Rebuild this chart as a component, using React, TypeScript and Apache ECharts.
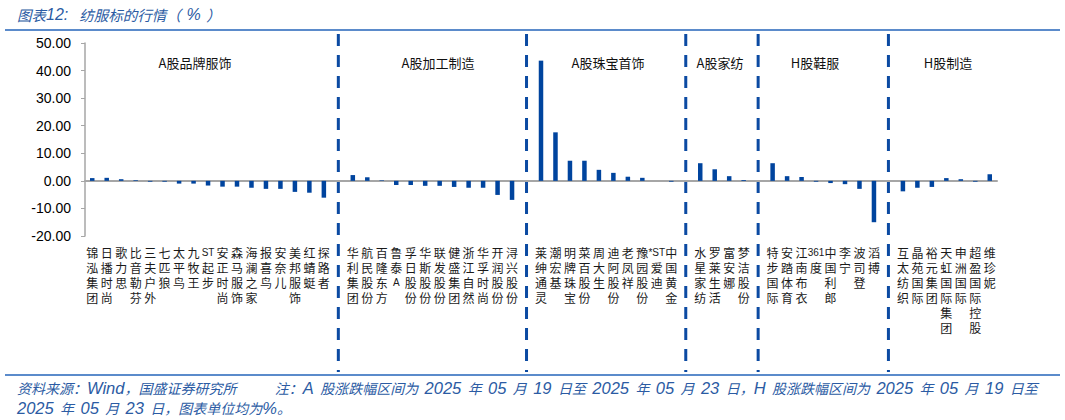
import React, { useEffect, useRef } from "react";
import * as echarts from "echarts";

const groupTitles = ["A股品牌服饰", "A股加工制造", "A股珠宝首饰", "A股家纺", "H股鞋服", "H股制造"];
const groupTitleX = [195, 438, 608, 720, 815, 948];

const brandNames = ["锦泓集团", "日播时尚", "歌力思", "比音勒芬", "三夫户外", "七匹狼", "太平鸟", "九牧王", "ST起步", "安正时尚", "森马服饰", "海澜之家", "报喜鸟", "安奈儿", "美邦服饰", "红蜻蜓", "探路者"];
const brandValues = [1.0, 1.1, 0.6, 0.25, -0.3, -0.3, -1.0, -1.0, -1.7, -2.1, -2.1, -2.5, -2.9, -2.9, -4.0, -4.3, -6.1];

const mfgNames = ["华利集团", "航民股份", "百隆东方", "鲁泰A", "孚日股份", "华斯股份", "联发股份", "健盛集团", "浙江自然", "华孚时尚", "开润股份", "浔兴股份"];
const mfgValues = [2.1, 1.3, 0.2, -1.5, -1.5, -1.8, -1.8, -2.2, -2.5, -2.5, -5.1, -6.9];

const jewelNames = ["莱绅通灵", "潮宏基", "明牌珠宝", "菜百股份", "周大生", "迪阿股份", "老凤祥", "豫园股份", "*ST爱迪", "中国黄金"];
const jewelValues = [43.6, 17.6, 7.3, 7.3, 4.0, 2.9, 1.5, 1.1, 0.0, -0.3];

const homeNames = ["水星家纺", "罗莱生活", "富安娜", "梦洁股份"];
const homeValues = [6.4, 4.2, 1.7, 0.3];

const hShoeNames = ["特步国际", "安踏体育", "江南布衣", "361度", "中国利郎", "李宁", "波司登", "滔搏"];
const hShoeValues = [6.4, 1.7, 1.4, -0.3, -0.8, -1.2, -2.9, -15.0];

const hMfgNames = ["互太纺织", "晶苑国际", "裕元集团", "天虹国际集团", "申洲国际", "超盈国际控股", "维珍妮"];
const hMfgValues = [-3.8, -2.5, -2.2, 1.0, 0.6, -0.3, 2.4];

const yTicks = [-20, 50, 10];

const titleText = "图表12:  纺服标的行情（ % ）";
const footerLines = [
  "资料来源：Wind，国盛证券研究所      注：A 股涨跌幅区间为 2025 年 05 月 19 日至 2025 年 05 月 23 日，H 股涨跌幅区间为 2025 年 05 月 19 日至",
  "2025 年 05 月 23 日，图表单位均为%。",
];

const groupNameLists = [brandNames, mfgNames, jewelNames, homeNames, hShoeNames, hMfgNames];
const groupValueLists = [brandValues, mfgValues, jewelValues, homeValues, hShoeValues, hMfgValues];

const BLUE = "#00449E";
const TXT_BLUE = "#2B5BA3";
const CJK = '"Noto Sans CJK SC", "Noto Sans", sans-serif';

function buildAxis() {
  const cats: string[] = [];
  const vals: (number | null)[] = [];
  const seps: number[] = [];
  groupNameLists.forEach((names, g) => {
    names.forEach((n, i) => {
      cats.push(n);
      vals.push(groupValueLists[g][i]);
    });
    if (g < groupNameLists.length - 1) {
      seps.push(cats.length);
      cats.push("__sep" + g);
      vals.push(null);
    }
  });
  return { cats, vals, seps };
}

function verticalLabel(name: string): string {
  if (name.startsWith("__sep")) return "";
  const tokens: string[] = [];
  let buf = "";
  for (const ch of name) {
    if (/[\x00-\x7f]/.test(ch)) {
      buf += ch;
    } else {
      if (buf) {
        tokens.push("{l|" + buf + "}");
        buf = "";
      }
      tokens.push(ch);
    }
  }
  if (buf) tokens.push("{l|" + buf + "}");
  return tokens.join("\n");
}

// wrap runs into rich segments: s = spaces, l = latin, c = CJK
function richify(line: string): string {
  let out = "";
  let buf = "";
  let kind: string | null = null;
  const flush = () => {
    if (buf) out += "{" + kind + "|" + buf + "}";
    buf = "";
  };
  for (const ch of line) {
    const k = ch === " " ? "s" : /[\x00-\x7f]/.test(ch) ? "l" : "c";
    if (kind !== null && k !== kind) flush();
    kind = k;
    buf += ch;
  }
  flush();
  return out;
}

export default function App() {
  const ref = useRef<HTMLDivElement>(null);
  useEffect(() => {
    if (!ref.current) return;
    const chart = echarts.init(ref.current, null, { renderer: "svg" });
    const { cats, vals, seps } = buildAxis();
    const option: any = {
      animation: false,
      backgroundColor: "#ffffff",
      grid: { left: 85, right: 68, top: 43, bottom: 184, containLabel: false },
      xAxis: {
        type: "category",
        data: cats,
        axisLine: { onZero: true, lineStyle: { color: "#A6A6A6", width: 2 } },
        axisTick: { show: false },
        axisLabel: {
          interval: 0,
          margin: 9,
          fontFamily: CJK,
          fontSize: 12,
          lineHeight: 15,
          color: "#1a1a1a",
          formatter: (v: string) => verticalLabel(v),
          rich: {
            l: { fontFamily: "Liberation Sans", fontSize: 10, lineHeight: 15, color: "#1a1a1a" },
          },
        },
        splitLine: { show: false },
      },
      yAxis: {
        type: "value",
        min: yTicks[0],
        max: yTicks[1],
        interval: yTicks[2],
        axisLine: { show: true, lineStyle: { color: "#A6A6A6", width: 1.5 } },
        axisTick: { show: true, length: 4, lineStyle: { color: "#A6A6A6" } },
        splitLine: { show: false },
        axisLabel: {
          fontFamily: "Liberation Sans",
          fontSize: 14,
          color: "#000",
          margin: 14,
          formatter: (v: number) => v.toFixed(2),
        },
      },
      series: [
        {
          type: "bar",
          data: vals,
          barWidth: 4.5,
          itemStyle: { color: BLUE },
        },
      ],
    };
    chart.setOption(option);

    const richStyles = {
      c: { fontFamily: CJK, fontSize: 14, lineHeight: 20, fontStyle: "italic", fill: TXT_BLUE, color: TXT_BLUE },
      l: { fontFamily: "Liberation Sans", fontSize: 16.5, lineHeight: 20, fontStyle: "italic", fill: TXT_BLUE, color: TXT_BLUE },
      s: { fontFamily: "Liberation Sans", fontSize: 23, lineHeight: 20, fill: TXT_BLUE, color: TXT_BLUE },
    };

    const elements: any[] = [];
    elements.push({
      type: "text",
      x: 17,
      y: 14,
      style: {
        text: richify(titleText),
        verticalAlign: "middle",
        rich: {
          c: { fontFamily: CJK, fontSize: 14.5, lineHeight: 20, fontStyle: "italic", fill: TXT_BLUE, color: TXT_BLUE },
          l: { fontFamily: "Liberation Sans", fontSize: 16, lineHeight: 20, fontStyle: "italic", fill: TXT_BLUE, color: TXT_BLUE },
          s: { fontFamily: "Liberation Sans", fontSize: 20, lineHeight: 20, fill: TXT_BLUE, color: TXT_BLUE },
        },
      },
    });
    elements.push({ type: "line", shape: { x1: 5, y1: 30, x2: 1060, y2: 30 }, style: { stroke: "#5B8BCB", lineWidth: 2 } });
    elements.push({ type: "line", shape: { x1: 5, y1: 375, x2: 1060, y2: 375 }, style: { stroke: "#5B8BCB", lineWidth: 2 } });
    footerLines.forEach((ln, i) => {
      elements.push({
        type: "text",
        x: 17,
        y: 388 + i * 20,
        style: { text: richify(ln), verticalAlign: "middle", rich: richStyles },
      });
    });
    groupTitles.forEach((t, i) => {
      elements.push({
        type: "text",
        x: groupTitleX[i],
        y: 62,
        style: { text: t, fontFamily: CJK, fontSize: 13, fill: "#111", align: "center", verticalAlign: "middle" },
      });
    });
    seps.forEach((idx) => {
      const x = chart.convertToPixel({ xAxisIndex: 0 }, idx) as number;
      elements.push({
        type: "line",
        shape: { x1: x, y1: 34, x2: x, y2: 372 },
        style: { stroke: "#0B4AA2", lineWidth: 3, lineDash: [12, 9] },
      });
    });
    chart.setOption({ graphic: { elements } });

    return () => chart.dispose();
  }, []);
  return (
    <div
      ref={ref}
      style={{ position: "fixed", left: 0, top: 0, width: 1065, height: 420, background: "#fff" }}
    />
  );
}
